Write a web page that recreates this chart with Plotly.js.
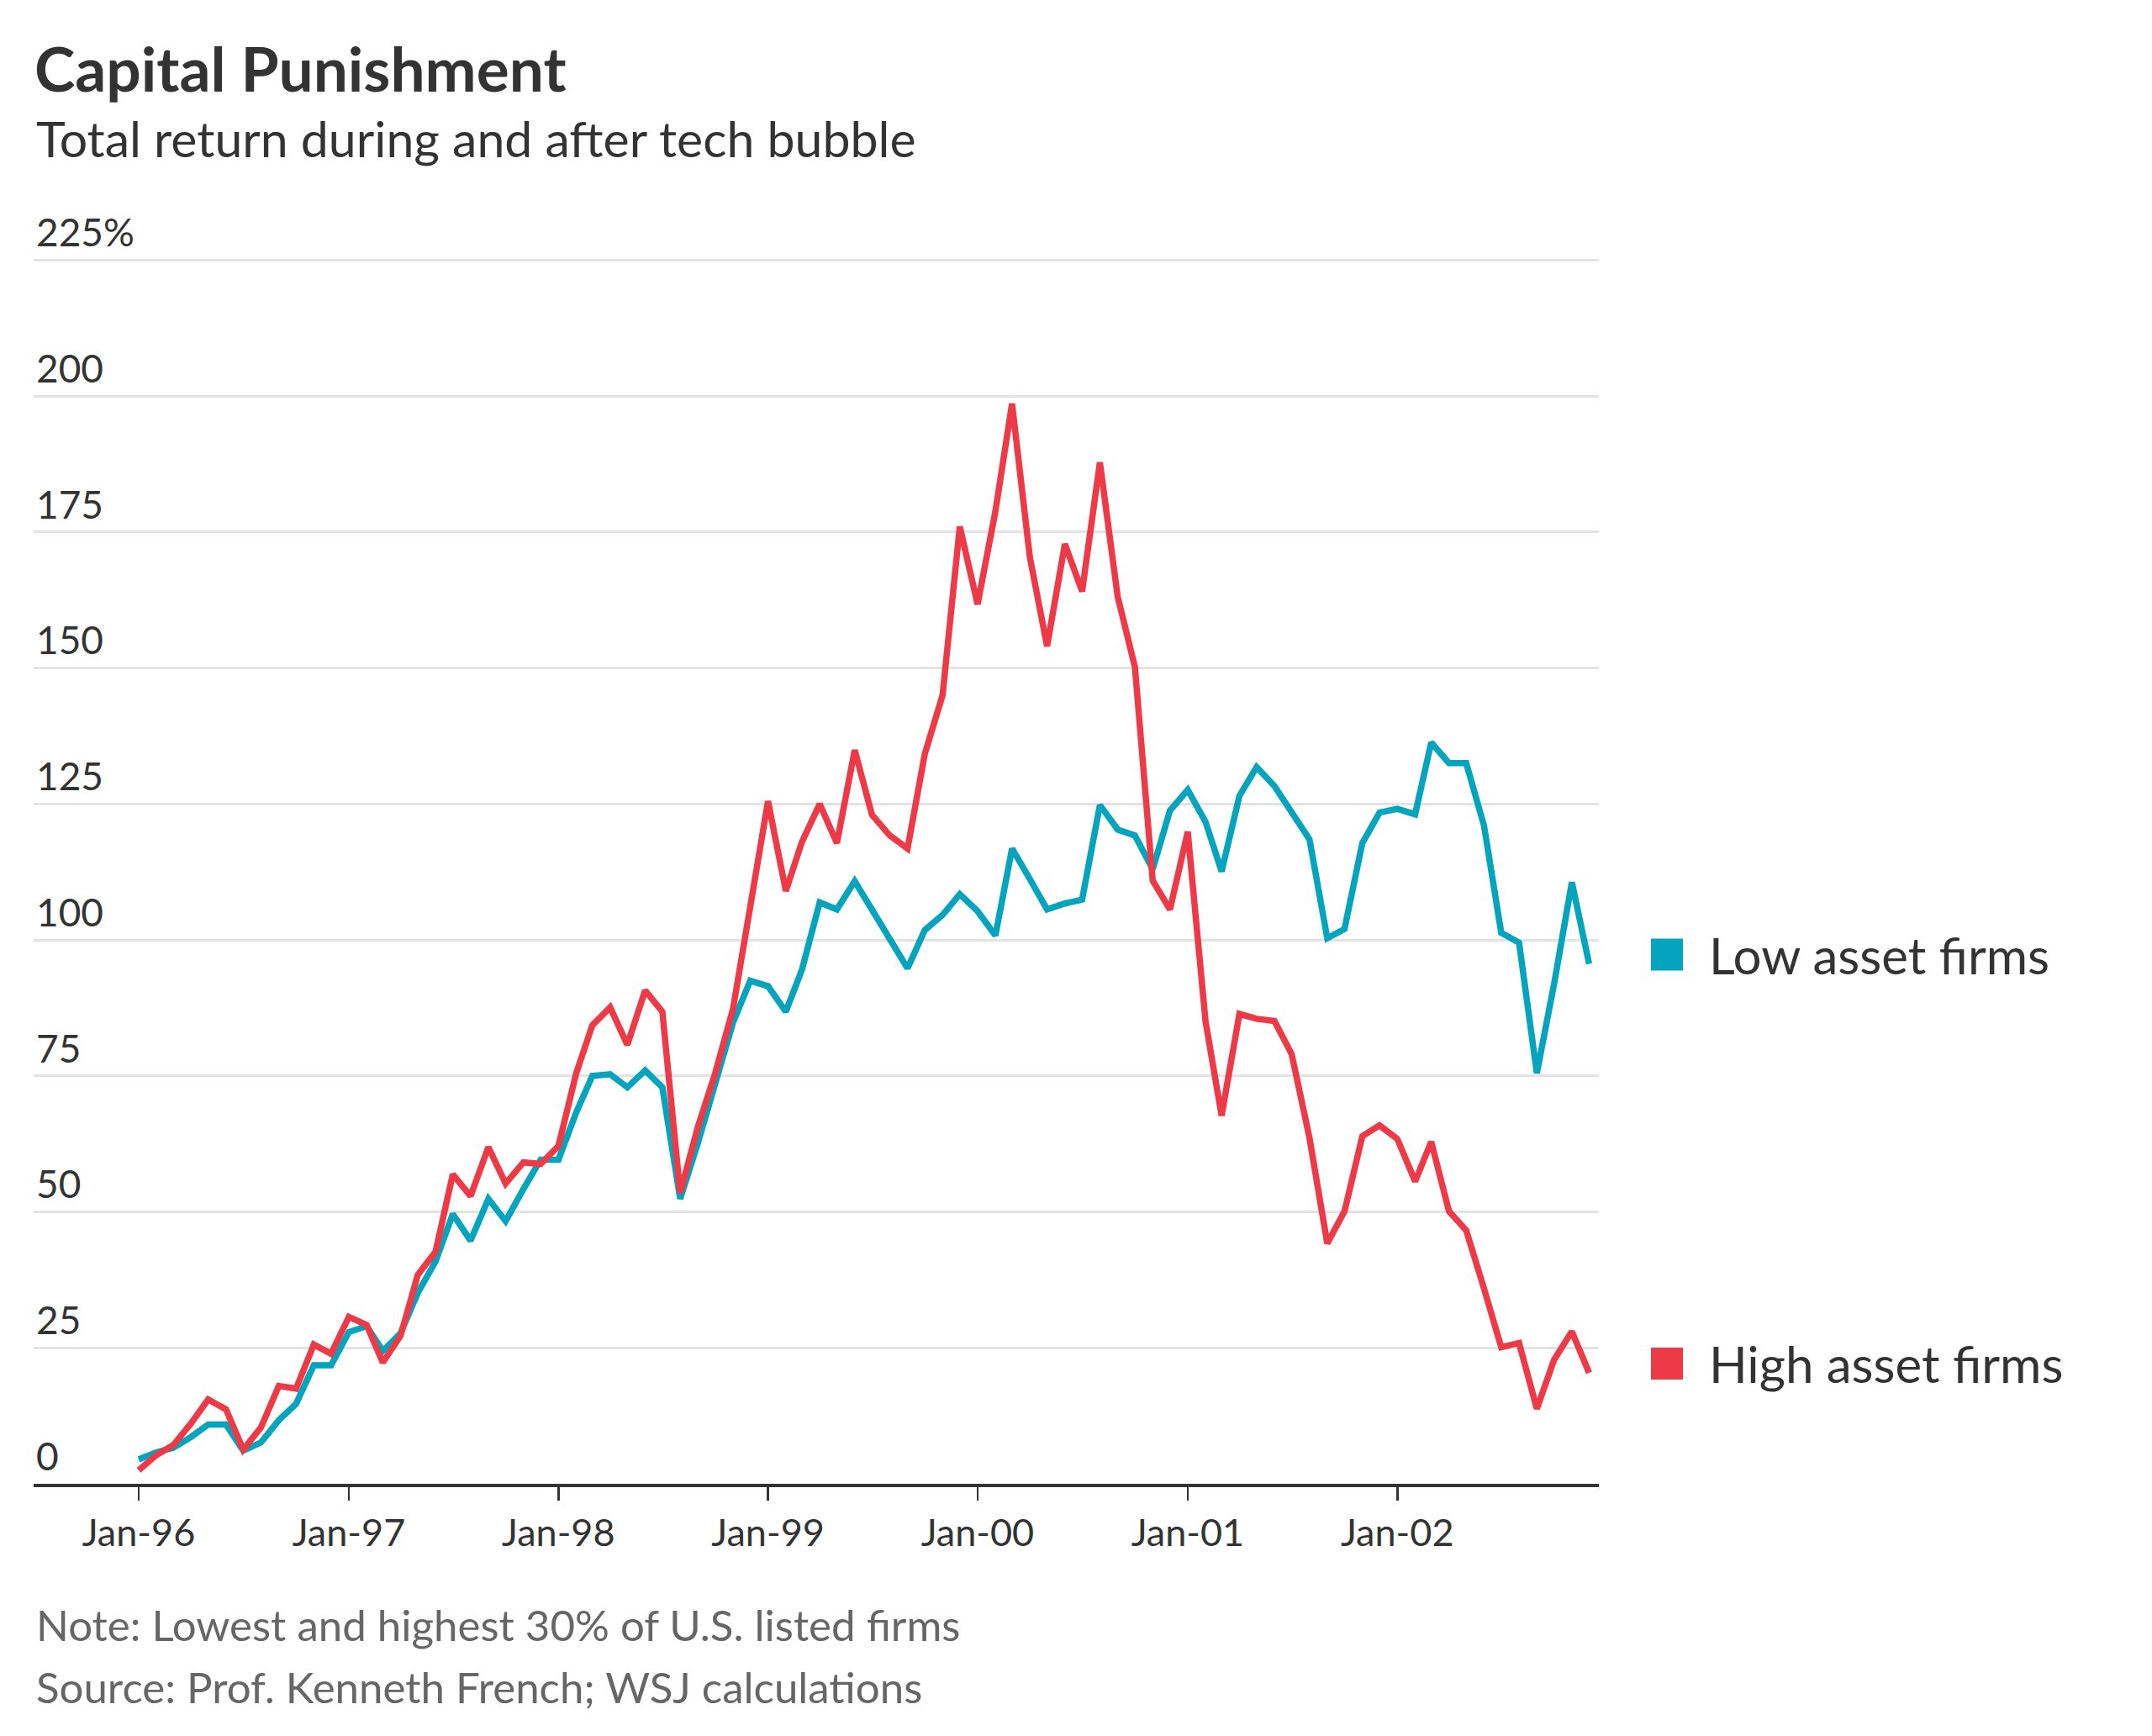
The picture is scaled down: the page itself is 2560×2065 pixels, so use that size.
<!DOCTYPE html>
<html>
<head>
<meta charset="utf-8">
<script src="https://cdn.plot.ly/plotly-3.0.1.min.js"></script>
<style>
  html, body { margin: 0; padding: 0; background: #ffffff; }
  #chart { width: 2560px; height: 2065px; }
</style>
</head>
<body>
<div id="chart"></div>
<script>
// Monthly total return (%), Jan-96 .. Dec-02
const startYear = 1996;
const lowAsset = [
  4.5, 5.8, 6.6, 8.6, 10.9, 10.9, 6.1, 7.6, 11.7, 14.7, 21.8, 21.8,
  27.9, 29.0, 24.4, 27.7, 35.1, 40.9, 49.6, 44.7, 52.4, 48.3, 54.2, 59.6,
  59.6, 68.3, 75.0, 75.3, 72.9, 76.0, 72.9, 52.4, 62.7, 73.5, 84.8, 92.5,
  91.5, 86.8, 94.5, 106.9, 105.6, 110.8, 105.6, 100.4, 94.8, 101.8, 104.6, 108.4,
  105.3, 100.8, 116.8, 111.2, 105.6, 106.7, 107.4, 124.8, 120.3, 119.2, 113.0, 123.8,
  127.6, 121.7, 112.6, 126.5, 131.8, 128.3, 123.4, 118.5, 100.3, 102.0, 117.8, 123.4,
  124.1, 123.1, 136.3, 132.5, 132.5, 121.0, 101.3, 99.5, 75.5, 91.9, 110.6, 95.6
];
const highAsset = [
  2.5, 5.3, 7.1, 11.1, 15.5, 13.7, 6.3, 10.4, 18.0, 17.5, 25.6, 23.9,
  30.7, 29.2, 22.3, 27.2, 38.4, 42.7, 56.9, 52.9, 61.9, 55.2, 59.1, 58.8,
  62.1, 75.5, 84.3, 87.6, 80.7, 90.7, 86.8, 53.5, 65.7, 75.5, 87.3, 106.4,
  125.5, 109.0, 118.0, 125.0, 117.8, 134.9, 123.0, 119.2, 116.8, 134.2, 145.0, 176.0,
  161.7, 178.8, 198.6, 170.4, 154.0, 172.8, 164.1, 187.8, 163.1, 150.2, 110.9, 105.6,
  119.9, 85.0, 67.7, 86.4, 85.5, 85.1, 79.0, 63.6, 44.2, 50.1, 63.9, 65.9,
  63.4, 55.6, 62.9, 50.1, 46.6, 35.9, 25.1, 25.9, 13.8, 22.8, 28.0, 20.4
];
const seriesNames = ['Low asset firms', 'High asset firms'];
const seriesColors = ['#04a4be', '#ee3a46'];

const yTickVals = [0, 25, 50, 75, 100, 125, 150, 175, 200, 225];
const yTickText = ['0', '25', '50', '75', '100', '125', '150', '175', '200', '225%'];
const xTickVals = ['1996-01-01', '1997-01-01', '1998-01-01', '1999-01-01', '2000-01-01', '2001-01-01', '2002-01-01'];
const xTickText = ['Jan-96', 'Jan-97', 'Jan-98', 'Jan-99', 'Jan-00', 'Jan-01', 'Jan-02'];

const titleText = 'Capital Punishment';
const subtitleText = 'Total return during and after tech bubble';
const noteText = 'Note: Lowest and highest 30% of U.S. listed firms';
const sourceText = 'Source: Prof. Kenneth French; WSJ calculations';

// month dates for the x axis
const months = lowAsset.map((_, i) => {
  const y = startYear + Math.floor(i / 12);
  const m = String(i % 12 + 1).padStart(2, '0');
  return `${y}-${m}-01`;
});

const FONT = 'Lato, "Noto Sans", "DejaVu Sans", sans-serif';
const W = 2560, H = 2065;
// plot area; the y range runs past 225 so the "225%" label still fits inside it
const yMax = 245;
const plotL = 40, plotR = 1902, plotB = 1765;
const plotT = Math.round(plotB - (plotB - 309) * yMax / 225);
const px = (x) => (x - plotL) / (plotR - plotL);
const py = (y) => (plotB - y) / (plotB - plotT);

const traces = [lowAsset, highAsset].map((vals, i) => ({
  x: months,
  y: vals,
  type: 'scatter',
  mode: 'lines',
  name: seriesNames[i],
  line: { color: seriesColors[i], width: 7.5 },
  cliponaxis: false,
  hoverinfo: 'skip'
}));

// end labels with colour squares, placed at each series' last value
const last = [lowAsset[lowAsset.length - 1], highAsset[highAsset.length - 1]];
const shapes = last.map((v, i) => ({
  type: 'rect',
  xref: 'paper', yref: 'y',
  ysizemode: 'pixel', yanchor: v,
  x0: px(1964), x1: px(2002),
  y0: 11 - 19, y1: 11 + 19,
  fillcolor: seriesColors[i],
  line: { width: 0 }
}));

const annotations = [
  {
    text: subtitleText, xref: 'paper', yref: 'paper',
    x: px(41), y: py(164), xanchor: 'left', yanchor: 'middle', showarrow: false,
    font: { family: FONT, size: 59, color: '#333333' }
  },
  {
    text: noteText, xref: 'paper', yref: 'paper',
    x: px(41), y: py(1932), xanchor: 'left', yanchor: 'middle', showarrow: false,
    font: { family: FONT, size: 51, color: '#666666' }
  },
  {
    text: sourceText, xref: 'paper', yref: 'paper',
    x: px(41), y: py(2006), xanchor: 'left', yanchor: 'middle', showarrow: false,
    font: { family: FONT, size: 51, color: '#666666' }
  }
].concat(last.map((v, i) => ({
  text: seriesNames[i], xref: 'paper', yref: 'y',
  x: px(2031), y: v, yshift: 11, xanchor: 'left', yanchor: 'middle', showarrow: false,
  font: { family: FONT, size: 60, color: '#333333' }
})));

const layout = {
  width: W,
  height: H,
  paper_bgcolor: '#ffffff',
  plot_bgcolor: '#ffffff',
  showlegend: false,
  margin: { l: plotL, r: W - plotR, t: plotT, b: H - plotB, pad: 0 },
  font: { family: FONT, color: '#333333' },
  title: {
    text: '<b>' + titleText + '</b>',
    xref: 'container', yref: 'container',
    x: 41 / W, xanchor: 'left',
    y: 1 - 83 / H, yanchor: 'middle',
    font: { family: FONT, size: 73, color: '#333333' }
  },
  xaxis: {
    type: 'date',
    range: ['1995-07-02', '2002-12-18'],
    tickvals: xTickVals,
    ticktext: xTickText,
    ticks: 'outside',
    ticklen: 16,
    tickwidth: 2.5,
    tickcolor: '#333333',
    showline: true,
    linecolor: '#333333',
    linewidth: 4,
    showgrid: false,
    zeroline: false,
    tickfont: { family: FONT, size: 45, color: '#333333' },
    fixedrange: true
  },
  yaxis: {
    range: [0, yMax],
    tickvals: yTickVals,
    ticktext: yTickText,
    ticks: '',
    ticklabelposition: 'inside top',
    showgrid: true,
    gridcolor: '#e3e3e3',
    gridwidth: 3,
    showline: false,
    zeroline: false,
    tickfont: { family: FONT, size: 46, color: '#333333' },
    fixedrange: true
  },
  shapes,
  annotations
};

Plotly.newPlot('chart', traces, layout, { displayModeBar: false, staticPlot: true });
</script>
</body>
</html>
